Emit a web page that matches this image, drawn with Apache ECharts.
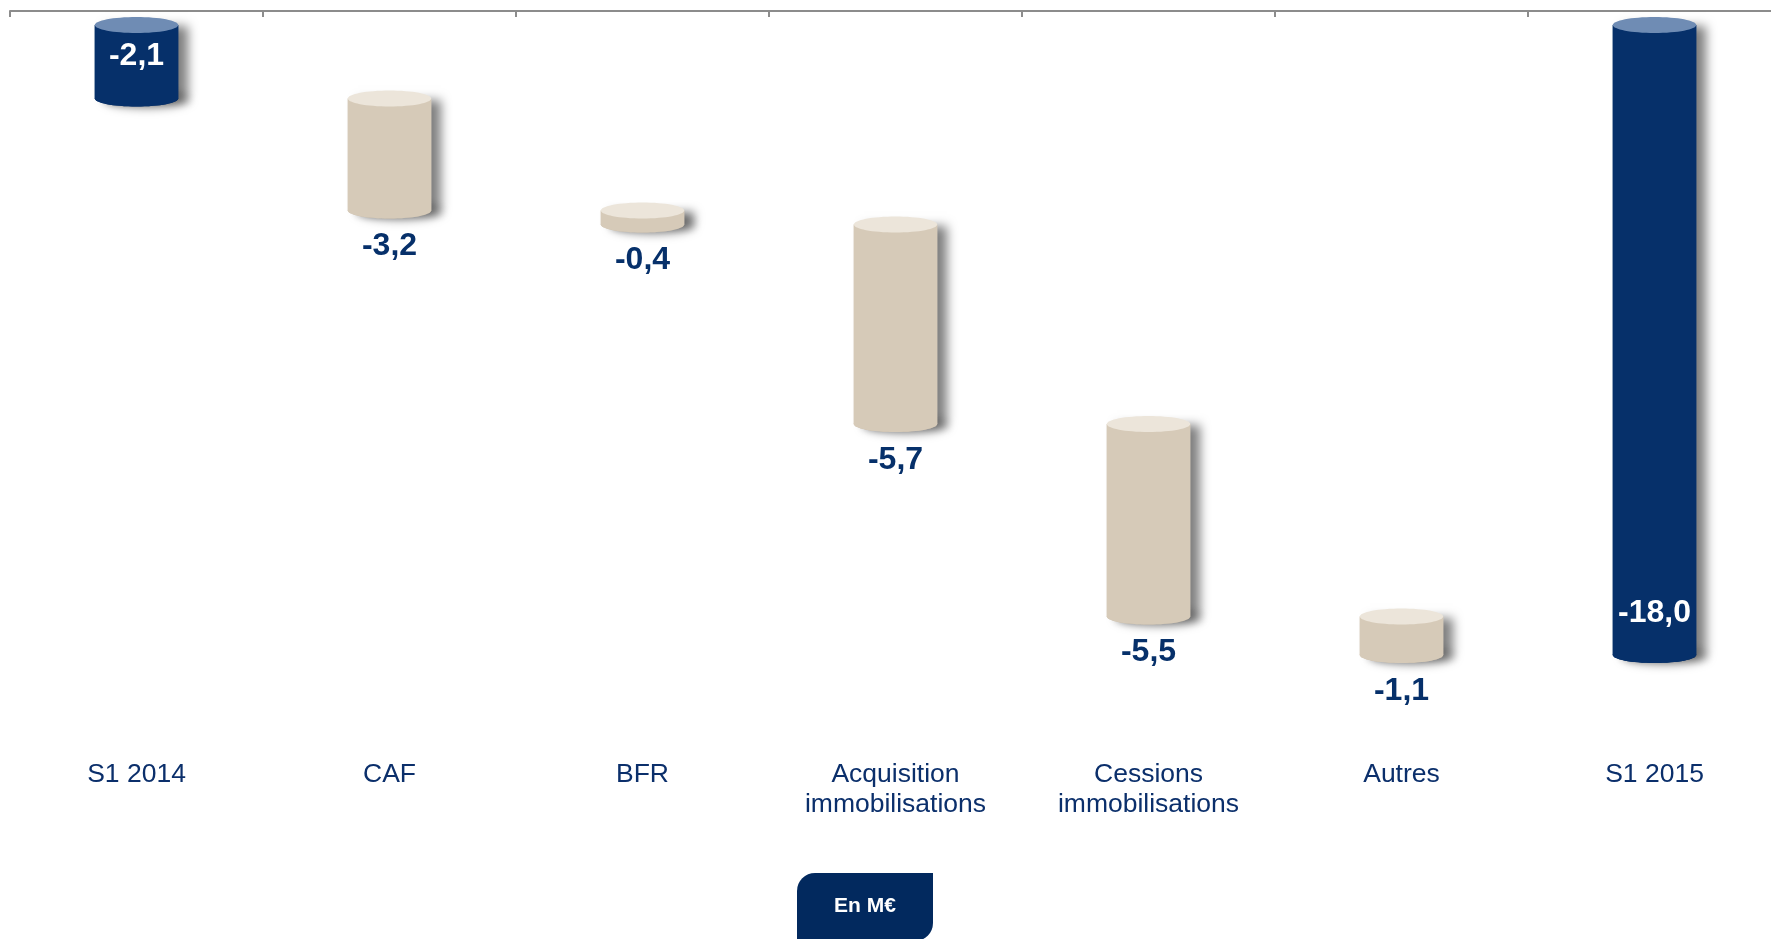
<!DOCTYPE html>
<html>
<head>
<meta charset="utf-8">
<title>Variation de trésorerie</title>
<script src="https://cdn.jsdelivr.net/npm/echarts@6/dist/echarts.min.js"></script>
<style>
  html, body { margin: 0; padding: 0; background: #fff; overflow: hidden; }
  #chart { width: 1800px; height: 939px; }
</style>
</head>
<body>
<div id="chart"></div>
<script>
const categories = ['S1 2014', 'CAF', 'BFR', 'Acquisition\nimmobilisations', 'Cessions\nimmobilisations', 'Autres', 'S1 2015']
const values = [-2.1, -3.2, -0.4, -5.7, -5.5, -1.1, -18.0]
const isTotal = [true, false, false, false, false, false, true]

const NAVY = '#06306a'
const NAVY_CAP = '#6f8cb4'
const BEIGE = '#d6cab8'
const BEIGE_CAP = '#ece5da'
const FONT = '"Liberation Sans", Arial, sans-serif'

// waterfall: each step starts where the previous one ended, totals start at 0
const bars = []
let running = 0
values.forEach((v, i) => {
  if (isTotal[i]) {
    bars.push([i, 0, v, v])
    running = v
  } else {
    bars.push([i, running, running + v, v])
    running += v
  }
})

const renderCylinder = (params, api) => {
  const i = api.value(0)
  const start = api.coord([i, api.value(1)])
  const end = api.coord([i, api.value(2)])
  const cx = start[0]
  const w = api.size([1, 0])[0] * 0.33
  const x0 = cx - w / 2
  const yTop = Math.min(start[1], end[1])
  const yBot = Math.max(start[1], end[1])
  const ry = 8
  const total = isTotal[params.dataIndex]
  const side = total ? NAVY : BEIGE
  const cap = total ? NAVY_CAP : BEIGE_CAP
  const shadow = { shadowBlur: 10, shadowOffsetX: 10, shadowOffsetY: 1, shadowColor: 'rgba(0,0,0,0.5)' }
  const txt = api.value(3).toFixed(1).replace('.', ',')
  const labelY = total ? yBot - 42 : yBot + 36
  return {
    type: 'group',
    children: [
      { type: 'ellipse', shape: { cx: cx, cy: yBot, rx: w / 2, ry: ry }, style: Object.assign({ fill: side }, shadow) },
      { type: 'rect', shape: { x: x0, y: yTop, width: w, height: yBot - yTop }, style: Object.assign({ fill: side }, shadow) },
      { type: 'ellipse', shape: { cx: cx, cy: yBot, rx: w / 2, ry: ry }, style: { fill: side } },
      { type: 'rect', shape: { x: x0, y: yTop, width: w, height: yBot - yTop }, style: { fill: side } },
      { type: 'ellipse', shape: { cx: cx, cy: yTop, rx: w / 2, ry: ry }, style: { fill: cap } },
      {
        type: 'text',
        style: {
          x: cx, y: labelY, text: txt,
          fill: total ? '#ffffff' : NAVY,
          font: 'bold 32px ' + FONT,
          align: 'center', verticalAlign: 'middle'
        }
      }
    ]
  }
}

const chart = echarts.init(document.getElementById('chart'))
chart.setOption({
  animation: false,
  // plot runs a little past the right edge of the window, as in the original slide
  grid: { left: 10, top: 11, width: 1771, height: 728 },
  xAxis: [
    {
      type: 'category',
      data: categories,
      position: 'top',
      axisLine: { onZero: false, lineStyle: { color: '#8c8c8c', width: 2 } },
      axisTick: { show: true, inside: true, length: 6, lineStyle: { color: '#8c8c8c', width: 2 } },
      axisLabel: { show: false }
    },
    {
      type: 'category',
      data: categories,
      position: 'bottom',
      axisLine: { show: false },
      axisTick: { show: false },
      axisLabel: {
        margin: 21,
        fontSize: 26.5,
        lineHeight: 30,
        fontFamily: FONT,
        color: '#0b2f6b'
      }
    }
  ],
  yAxis: {
    type: 'value',
    min: -20.4,
    max: 0.4,
    show: false
  },
  series: [
    {
      type: 'custom',
      xAxisIndex: 0,
      renderItem: renderCylinder,
      encode: { x: 0, y: [1, 2] },
      data: bars
    }
  ],
  graphic: [
    {
      type: 'group',
      left: 797,
      top: 873,
      children: [
        { type: 'rect', shape: { x: 0, y: 0, width: 136, height: 68, r: [18, 0, 18, 0] }, style: { fill: '#02295e' } },
        {
          type: 'text',
          style: {
            x: 68, y: 33, text: 'En M€',
            fill: '#ffffff', font: 'bold 21px ' + FONT,
            align: 'center', verticalAlign: 'middle'
          }
        }
      ]
    }
  ]
})
</script>
</body>
</html>
